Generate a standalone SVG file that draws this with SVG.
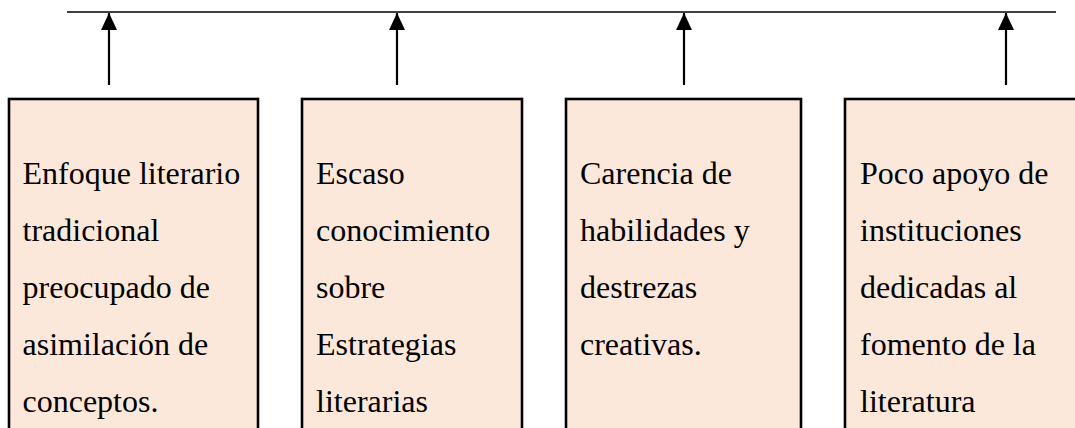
<svg xmlns="http://www.w3.org/2000/svg" width="1075" height="428" viewBox="0 0 1075 428">
<style>
.box{fill:#FCE8DA;stroke:#000;stroke-width:2.6}
.t{font-family:"Liberation Serif","Times New Roman",serif;font-size:32px;fill:#000}
.c{stroke:#000;stroke-width:2.2;fill:none}
</style>
<defs>
<marker id="ah" viewBox="0 0 17 16" refX="17" refY="8" markerWidth="17" markerHeight="16" markerUnits="userSpaceOnUse" orient="auto">
<path d="M0,0 L17,8 L0,16 Z" fill="#000"/>
</marker>
</defs>
<g id="connectors">
<line x1="67" y1="12" x2="1056" y2="12" stroke="#000" stroke-width="1.6"/>
<line class="c" x1="109" y1="85" x2="109" y2="13" marker-end="url(#ah)"/>
<line class="c" x1="397" y1="85" x2="397" y2="13" marker-end="url(#ah)"/>
<line class="c" x1="684" y1="85" x2="684" y2="13" marker-end="url(#ah)"/>
<line class="c" x1="1006" y1="85" x2="1006" y2="13" marker-end="url(#ah)"/>
</g>
<g id="node1">
<rect class="box" x="9" y="99" width="249" height="360"/>
<text class="t" x="22.5" y="184">Enfoque literario</text>
<text class="t" x="22.5" y="241">tradicional</text>
<text class="t" x="22.5" y="298">preocupado de</text>
<text class="t" x="22.5" y="355">asimilación de</text>
<text class="t" x="22.5" y="412">conceptos.</text>
</g>
<g id="node2">
<rect class="box" x="302" y="99" width="220" height="360"/>
<text class="t" x="316" y="184">Escaso</text>
<text class="t" x="316" y="241">conocimiento</text>
<text class="t" x="316" y="298">sobre</text>
<text class="t" x="316" y="355">Estrategias</text>
<text class="t" x="316" y="412">literarias</text>
</g>
<g id="node3">
<rect class="box" x="566" y="99" width="235" height="360"/>
<text class="t" x="580" y="184">Carencia de</text>
<text class="t" x="580" y="241">habilidades y</text>
<text class="t" x="580" y="298">destrezas</text>
<text class="t" x="580" y="355">creativas.</text>
</g>
<g id="node4">
<rect class="box" x="845" y="99" width="260" height="360"/>
<text class="t" x="860" y="184">Poco apoyo de</text>
<text class="t" x="860" y="241">instituciones</text>
<text class="t" x="860" y="298">dedicadas al</text>
<text class="t" x="860" y="355">fomento de la</text>
<text class="t" x="860" y="412">literatura</text>
</g>
</svg>
